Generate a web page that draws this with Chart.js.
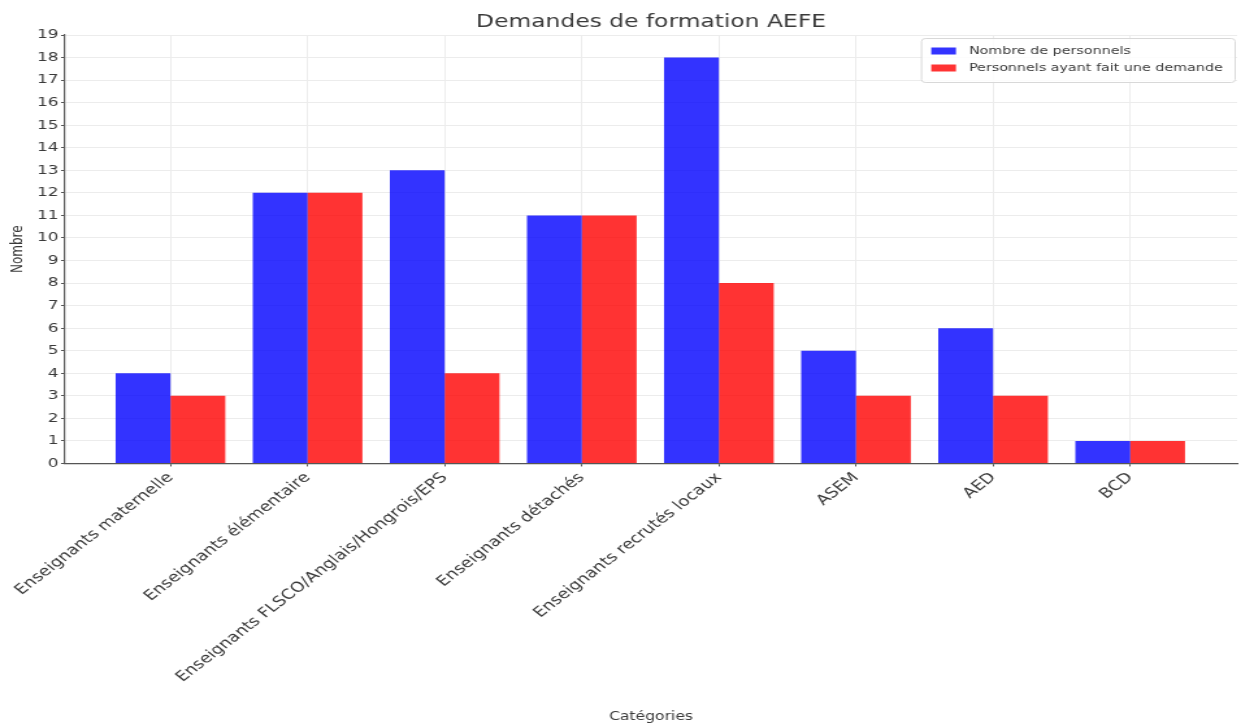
<!DOCTYPE html>
<html lang="fr">
<head>
<meta charset="utf-8">
<title>Demandes de formation AEFE</title>
<script src="https://cdn.jsdelivr.net/npm/chart.js@4.4.1/dist/chart.umd.min.js"></script>
<style>
  html, body { margin: 0; padding: 0; background: #fff; overflow: hidden; }
  /* the reference picture is a figure stretched sideways, so draw narrow and widen it */
  #wrap { width: 955px; height: 724px; position: relative; transform: scaleX(1.2995); transform-origin: 0 0; }
</style>
</head>
<body>
<div id="wrap"><canvas id="chart"></canvas></div>
<script>
const categories = [
  "Enseignants maternelle",
  "Enseignants élémentaire",
  "Enseignants FLSCO/Anglais/Hongrois/EPS",
  "Enseignants détachés",
  "Enseignants recrutés locaux",
  "ASEM",
  "AED",
  "BCD"
];
const nombrePersonnels = [4, 12, 13, 11, 18, 5, 6, 1];
const personnelsDemande = [3, 12, 4, 11, 8, 3, 3, 1];
const yTicks = [0, 1, 2, 3, 4, 5, 6, 7, 8, 9, 10, 11, 12, 13, 14, 15, 16, 17, 18, 19];
const chartTitle = "Demandes de formation AEFE";

const FONT = "'DejaVu Sans', sans-serif";
const TEXT = "#3a3a3a";
const BLUE = "rgba(0,0,255,0.8)";
const RED = "rgba(255,0,0,0.8)";

function points(values) {
  return values.map((v, i) => ({ x: i, y: v }));
}

// title centred over the axes and legend inside the plot (upper right)
const axesDecor = {
  id: "axesDecor",
  afterDraw(chart) {
    const ctx = chart.ctx;
    const area = chart.chartArea;
    ctx.save();
    ctx.fillStyle = TEXT;
    ctx.font = "18px " + FONT;
    ctx.textAlign = "center";
    ctx.textBaseline = "middle";
    ctx.fillText(chartTitle, (area.left + area.right) / 2, 22);

    const items = chart.data.datasets;
    ctx.font = "11px " + FONT;
    ctx.textAlign = "left";
    const textW = Math.max(...items.map((d) => ctx.measureText(d.label).width));
    const rowH = 17;
    const w = 8 + 19 + 10 + textW + 9;
    const h = items.length * rowH + 10;
    const x = area.right - w - 2;
    const y = area.top + 3;
    ctx.fillStyle = "rgba(255,255,255,0.85)";
    ctx.strokeStyle = "#d8d8d8";
    ctx.lineWidth = 1;
    ctx.beginPath();
    ctx.roundRect(x + 0.5, y + 0.5, w, h, 3);
    ctx.fill();
    ctx.stroke();
    items.forEach((d, i) => {
      const cy = y + 13 + i * rowH;
      ctx.fillStyle = d.backgroundColor;
      ctx.fillRect(x + 8, cy - 3.5, 19, 7);
      ctx.fillStyle = TEXT;
      ctx.fillText(d.label, x + 8 + 19 + 10, cy);
    });
    ctx.restore();
  }
};

new Chart(document.getElementById("chart"), {
  type: "bar",
  data: {
    datasets: [
      { label: "Nombre de personnels", data: points(nombrePersonnels), backgroundColor: BLUE },
      { label: "Personnels ayant fait une demande", data: points(personnelsDemande), backgroundColor: RED }
    ]
  },
  options: {
    responsive: true,
    maintainAspectRatio: false,
    animation: false,
    layout: { padding: { left: 7, right: 3, top: 35, bottom: 0 } },
    datasets: { bar: { barPercentage: 1, categoryPercentage: 0.8 } },
    plugins: {
      legend: { display: false },
      tooltip: { enabled: false },
      title: { display: false }
    },
    scales: {
      x: {
        type: "linear",
        offset: false,
        min: -0.77,
        max: 7.78,
        afterBuildTicks(scale) {
          scale.ticks = categories.map((c, i) => ({ value: i }));
        },
        ticks: {
          callback: (v) => categories[v],
          color: TEXT,
          font: { family: FONT, size: 14 },
          minRotation: 45,
          maxRotation: 45,
          autoSkip: false,
          padding: 3
        },
        grid: { offset: false, color: "#ececec", tickColor: "#555", tickLength: 3 },
        border: { color: "#555", width: 1.2 },
        title: {
          display: true,
          text: "Catégories",
          color: TEXT,
          font: { family: FONT, size: 12 },
          padding: { top: 21, bottom: 0 }
        }
      },
      y: {
        min: 0,
        max: 19,
        afterBuildTicks(scale) {
          scale.ticks = yTicks.map((v) => ({ value: v }));
        },
        ticks: { color: TEXT, font: { family: FONT, size: 13 }, padding: 2 },
        grid: { color: "#ececec", tickColor: "#555", tickLength: 3 },
        border: { color: "#555", width: 1.2 },
        title: {
          display: true,
          text: "Nombre",
          color: TEXT,
          font: { family: FONT, size: 12 },
          padding: { top: 0, bottom: 5 }
        }
      }
    }
  },
  plugins: [axesDecor]
});
</script>
</body>
</html>
